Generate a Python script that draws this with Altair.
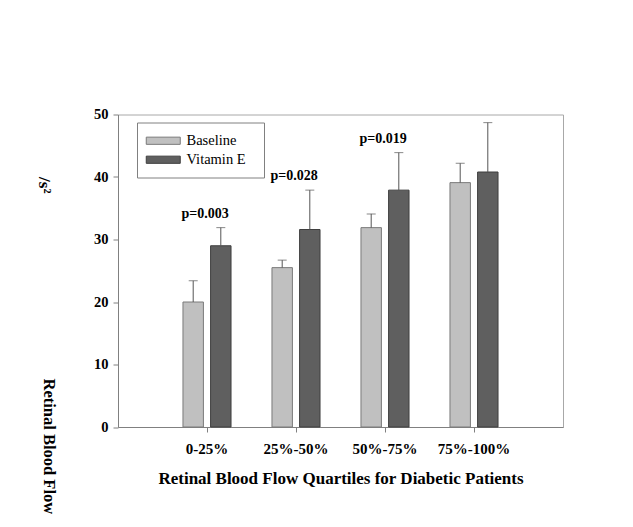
import altair as alt
import pandas as pd

groups = ["0-25%", "25%-50%", "50%-75%", "75%-100%"]
series = ["Baseline", "Vitamin E"]
baseline_mean = [20.0, 25.5, 31.9, 39.1]
baseline_err = [3.4, 1.2, 2.2, 3.1]
vitamin_mean = [29.0, 31.6, 37.9, 40.8]
vitamin_err = [2.9, 6.3, 6.0, 7.9]
p_labels = ["p=0.003", "p=0.028", "p=0.019", ""]
y_ticks = [0, 10, 20, 30, 40, 50]

rows = []
for i, g in enumerate(groups):
    rows.append(dict(group=g, series=series[0], mean=baseline_mean[i],
                     upper=baseline_mean[i] + baseline_err[i]))
    rows.append(dict(group=g, series=series[1], mean=vitamin_mean[i],
                     upper=vitamin_mean[i] + vitamin_err[i]))
df = pd.DataFrame(rows)
pdf = pd.DataFrame({"group": groups, "label": p_labels,
                    "top": [m + e for m, e in zip(vitamin_mean, vitamin_err)]})
pdf = pdf[pdf["label"] != ""]

FONT = "Liberation Serif"

x = alt.X("group:N", sort=groups,
          scale=alt.Scale(domain=groups, paddingInner=0.46, paddingOuter=0.73),
          axis=alt.Axis(title="Retinal Blood Flow Quartiles for Diabetic Patients",
                        labelAngle=0, labelPadding=9, labelFontSize=15,
                        titleFontSize=17, titleBaseline="middle", titleY=51))
xoff = alt.XOffset("series:N", sort=series,
                   scale=alt.Scale(domain=series, paddingInner=0.26, paddingOuter=0))
yscale = alt.Scale(domain=[0, 50])
y = alt.Y("mean:Q", scale=yscale,
          axis=alt.Axis(values=y_ticks, title="Retinal Blood Flow", titleAngle=90,
                        titleX=-70, titleY=263.5, titleAlign="left", titleFontSize=16.5,
                        titleBaseline="middle", grid=False, labelPadding=5,
                        labelFontSize=14.5))

bars = alt.Chart(df).mark_bar(strokeWidth=1).encode(
    x=x, xOffset=xoff, y=y,
    color=alt.Color("series:N", sort=series,
                    scale=alt.Scale(domain=series, range=["#c0c0c0", "#5f5f5f"]),
                    legend=alt.Legend(title=None, orient="none", legendX=19, legendY=8,
                                      symbolType="M-4.25,-0.9H4.25V0.9H-4.25Z", symbolSize=64,
                                      symbolOffset=8, labelOffset=16, padding=11,
                                      strokeColor="#808080", fillColor="white",
                                      labelFont=FONT, labelFontSize=14.5, labelColor="black",
                                      labelExpr="datum.label + '\u2002\u200b'",
                                      rowPadding=4, symbolStrokeColor="#666666",
                                      symbolStrokeWidth=1)),
    stroke=alt.Stroke("series:N", sort=series,
                      scale=alt.Scale(domain=series, range=["#7a7a7a", "#3f3f3f"]),
                      legend=None),
)

rules = alt.Chart(df).mark_rule(color="#555555", strokeWidth=1).encode(
    x=x, xOffset=xoff, y=alt.Y("mean:Q", scale=yscale), y2="upper:Q")

caps = alt.Chart(df).mark_tick(color="#555555", thickness=1, size=9).encode(
    x=x, xOffset=xoff, y=alt.Y("upper:Q", scale=yscale))

ptext = alt.Chart(pdf).mark_text(font=FONT, fontWeight="bold", fontSize=14,
                                 dy=-14, dx=-2, baseline="middle", color="black").encode(
    x=x, y=alt.Y("top:Q", scale=yscale), text="label:N")

chart = alt.layer(bars, rules, caps, ptext).properties(
    width=445, height=312.5,
    autosize=alt.AutoSizeParams(type="none"),
    padding={"left": 110, "top": 106.5, "right": 62, "bottom": 91},
    title=alt.TitleParams(text="/s²", orient="top", anchor="start", frame="group",
                          angle=90, align="left", baseline="middle", fontSize=17,
                          font=FONT, fontWeight="bold", color="black", offset=0,
                          dx=87, dy=74),
).configure_view(stroke="#a8a8a8", strokeWidth=1).configure_axis(
    domainColor="#808080", tickColor="#808080", tickSize=5,
    labelFont=FONT, labelFontWeight="bold", labelFontSize=13, labelColor="black",
    titleFont=FONT, titleFontSize=16, titleFontWeight="bold", titleColor="black",
)

chart.save("out.html", embed_options={"renderer": "svg", "actions": False})
